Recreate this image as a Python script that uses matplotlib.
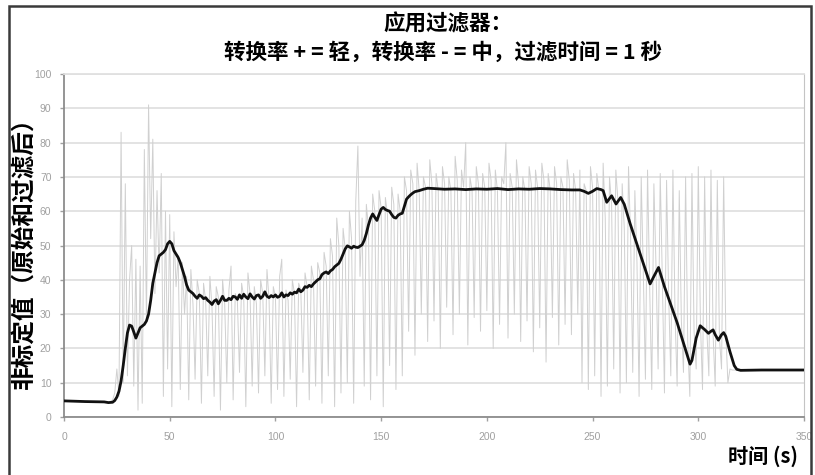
import matplotlib
matplotlib.use("Agg")
import matplotlib.pyplot as plt
from matplotlib.patches import Rectangle

plt.rcParams['font.family'] = ['Noto Sans CJK SC', 'DejaVu Sans']

# ---------------- data ----------------
title_line1 = "应用过滤器："
title_line2 = "转换率 + = 轻，转换率 - = 中，过滤时间 = 1 秒"
ylabel_text = "非标定值（原始和过滤后）"
xlabel_text = "时间 (s)"

x_ticks = [0, 50, 100, 150, 200, 250, 300, 350]
y_ticks = [0, 10, 20, 30, 40, 50, 60, 70, 80, 90, 100]

# raw signal, one sample per second starting at t = 22 s
raw_start = 22
raw_values = [
    4.5, 5, 7, 14, 6, 83, 10, 68,
    12, 40, 50, 9, 46, 2, 44, 4, 78, 28,
    91, 52, 81, 36, 66, 42, 71, 6, 60, 14,
    59, 3, 54, 38, 47, 8, 45, 30, 41, 5,
    43, 33, 11, 40, 36, 4, 39, 34, 12, 41,
    32, 6, 38, 35, 2, 40, 33, 10, 37, 44,
    5, 36, 34, 13, 39, 35, 3, 42, 36, 9,
    38, 33, 7, 40, 36, 12, 43, 34, 4, 38,
    35, 8, 41, 46, 6, 37, 34, 11, 40, 36,
    3, 39, 37, 13, 42, 38, 5, 44, 40, 9,
    45, 42, 4, 48, 44, 12, 52, 47, 3, 58,
    50, 7, 55, 49, 10, 60, 52, 4, 63, 79,
    41, 58, 9, 62, 55, 5, 65, 60, 12, 66,
    61, 3, 64, 59, 15, 67, 62, 8, 65, 60,
    12, 70, 66, 25, 72, 68, 18, 74, 66, 30,
    70, 67, 22, 75, 68, 28, 71, 66, 20, 73,
    68, 32, 70, 66, 24, 76, 69, 30, 72, 67,
    80, 21, 70, 66, 29, 73, 68, 25, 71, 67,
    31, 74, 69, 20, 72, 66, 27, 70, 68, 80,
    23, 71, 67, 30, 75, 68, 22, 70, 66, 28,
    73, 68, 19, 72, 67, 26, 74, 69, 16, 71,
    66, 29, 73, 68, 21, 70, 67, 27, 75, 69,
    24, 71, 66, 30, 72, 10, 68, 66, 8, 73,
    67, 12, 71, 66, 6, 74, 58, 9, 70, 62,
    14, 72, 63, 7, 68, 55, 10, 73, 52, 13,
    66, 45, 6, 70, 42, 11, 72, 38, 8, 68,
    44, 14, 71, 40, 7, 69, 35, 12, 72, 30,
    9, 66, 28, 13, 70, 22, 6, 71, 25, 14,
    73, 28, 8, 70, 26, 12, 72, 24, 9, 69,
    23, 14, 70, 25, 10, 14, 13.7, 13.7, 13.7,
]
raw_time = list(range(raw_start, raw_start + len(raw_values)))

# filtered signal as (time s, value) points
filtered_points = [
    (0, 4.7), (5, 4.6), (10, 4.5), (15, 4.45), (19, 4.4), (21, 4.2), (23, 4.3),
    (24, 4.8), (25, 5.8), (26, 7.5), (27, 10.5), (28, 15), (29, 20), (30, 24.5),
    (31, 26.8), (32, 26.5), (33, 24.8), (34, 23), (35, 24.5), (36, 26),
    (37, 26.5), (38, 27), (39, 28), (40, 30), (41, 34), (42, 39), (43, 42),
    (44, 45), (45, 47), (46, 47.5), (47, 48), (48, 48.8), (49, 50.5),
    (50, 51.2), (51, 50.5), (52, 48.5), (53, 47.5), (54, 46.5), (55, 45),
    (56, 43), (57, 41), (58, 38.5), (59, 37), (60, 36.5), (61, 36), (62, 35.2),
    (63, 34.6), (64, 35.6), (65, 35.2), (66, 34.5), (67, 34.8), (68, 34.0),
    (69, 33.5), (70, 32.8), (71, 33.8), (72, 34.2), (73, 33.0), (74, 34.0),
    (75, 35.2), (76, 34.0), (77, 34.0), (78, 34.6), (79, 34.2), (80, 35.2),
    (81, 35.0), (82, 34.3), (83, 35.6), (84, 34.6), (85, 35.8), (86, 35.0),
    (87, 34.5), (88, 35.9), (89, 35.0), (90, 34.4), (91, 35.4), (92, 35.6),
    (93, 34.6), (94, 35.2), (95, 36.5), (96, 35.2), (97, 34.8), (98, 35.4),
    (99, 35.0), (100, 35.6), (101, 34.9), (102, 35.2), (103, 36.2),
    (104, 35.0), (105, 35.6), (106, 35.4), (107, 36.2), (108, 35.8),
    (109, 36.4), (110, 36.2), (111, 37.3), (112, 36.5), (113, 37.0),
    (114, 38.0), (115, 37.8), (116, 38.4), (117, 38.0), (118, 38.8),
    (119, 39.4), (120, 40.0), (121, 40.3), (122, 41.5), (123, 42.0),
    (124, 42.3), (125, 41.8), (126, 42.6), (127, 43.0), (128, 43.8),
    (129, 44.3), (130, 44.8), (131, 46), (132, 47.5), (133, 49), (134, 49.9),
    (135, 49.6), (136, 49.2), (137, 49.8), (138, 49.5), (139, 49.4),
    (140, 49.8), (141, 50.2), (142, 51.5), (143, 53.5), (144, 56), (145, 58),
    (146, 59.2), (147, 58.2), (148, 57.3), (149, 59), (150, 60.6), (151, 61.1),
    (152, 60.5), (153, 60.2), (154, 60), (155, 59), (156, 58.2), (157, 58),
    (158, 58.8), (159, 59.2), (160, 59.4), (161, 61.5), (162, 63.5),
    (163, 64.2), (164, 64.8), (165, 65.3), (166, 65.7), (168, 66), (170, 66.4),
    (172, 66.7), (175, 66.6), (180, 66.4), (185, 66.5), (190, 66.3),
    (195, 66.5), (200, 66.4), (205, 66.6), (210, 66.3), (215, 66.5),
    (220, 66.4), (225, 66.6), (230, 66.5), (235, 66.3), (240, 66.2),
    (244, 66.2), (246, 65.8), (248, 65.2), (250, 65.8), (252, 66.6),
    (254, 66.3), (255, 66.0), (256.7, 62.6), (259, 64.5), (261.1, 62.1),
    (263.3, 64.0), (265, 62.0), (267.8, 56.3), (272, 48.5), (277.2, 38.8),
    (279, 41.0), (281.2, 43.6), (284, 38.0), (290, 27.5), (296.1, 15.4),
    (297, 16.5), (299, 23), (300.9, 26.6), (303, 25.5), (304.8, 24.4),
    (306, 25), (307, 25.4), (308, 24), (309.5, 22.4), (311, 24), (312, 24.6),
    (313, 23.5), (315, 19), (317, 15), (318.2, 13.9), (320, 13.6), (330, 13.7),
    (340, 13.7), (350, 13.7),
]
filt_time = [p[0] for p in filtered_points]
filt_values = [p[1] for p in filtered_points]

# ---------------- figure ----------------
W, H = 815, 475
fig = plt.figure(figsize=(W / 100, H / 100), dpi=100)
ax = fig.add_axes([64 / W, 1 - 417 / H, (804 - 64) / W, (417 - 74) / H])

ax.plot(raw_time, raw_values, color='#d0d0d0', lw=0.7, zorder=2)
ax.plot(filt_time, filt_values, color='#111111', lw=2.0, zorder=3,
        solid_joinstyle='round')

ax.set_xlim(0, 350)
ax.set_ylim(0, 100)
ax.set_xticks(x_ticks)
ax.set_yticks(y_ticks)
ax.yaxis.grid(True, color='#e0e0e0', lw=1.3, zorder=0)
ax.set_axisbelow(True)

for lab in ax.get_xticklabels() + ax.get_yticklabels():
    lab.set_family('Liberation Sans')
ax.tick_params(axis='both', colors='#a0a0a0', labelsize=7.5, length=3, width=1,
               direction='out')
ax.tick_params(axis='x', pad=8)
ax.tick_params(axis='y', pad=6)

ax.spines['left'].set_color('#8c8c8c')
ax.spines['bottom'].set_color('#8c8c8c')
ax.spines['left'].set_linewidth(1.3)
ax.spines['bottom'].set_linewidth(1.3)
ax.spines['right'].set_color('#c4c4c4')
ax.spines['top'].set_color('#e0e0e0')
ax.spines['top'].set_linewidth(1.3)

# titles and labels
fig.text(448 / W, 1 - 24 / H, title_line1, ha='center', va='center',
         fontsize=15.5, fontweight='bold')
fig.text(443 / W, 1 - 52 / H, title_line2, ha='center', va='center',
         fontsize=15.5, fontweight='bold')
fig.text(24 / W, 1 - 247 / H, ylabel_text, ha='center', va='center',
         rotation=90, fontsize=17, fontweight='bold')
fig.text(798 / W, 1 - 456 / H, xlabel_text, ha='right', va='center',
         fontsize=14.5, fontweight='bold')

# outer frame
fig.add_artist(Rectangle((9 / W, -0.2), (811 - 9) / W, 1.2 - 6 / H,
                         transform=fig.transFigure, fill=False,
                         edgecolor='#3a3a3a', lw=1.8))

fig.savefig('out.png', dpi=100)
